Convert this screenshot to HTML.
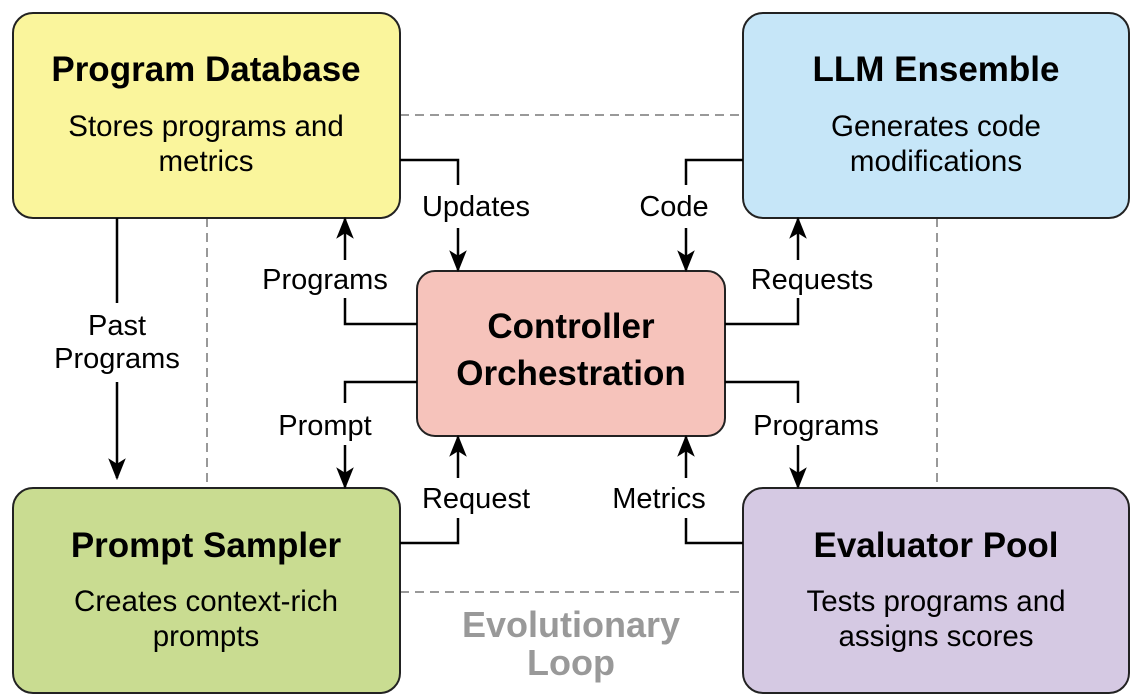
<!DOCTYPE html>
<html><head><meta charset="utf-8"><style>html,body{margin:0;padding:0;background:#fff}svg{display:block}</style></head><body>
<svg width="1139" height="700" viewBox="0 0 1139 700" xmlns="http://www.w3.org/2000/svg" font-family="Liberation Sans, Arial, sans-serif">
<defs><marker id="a" viewBox="0 0 20 20" refX="18" refY="10" markerWidth="22" markerHeight="22" markerUnits="userSpaceOnUse" orient="auto"><path d="M0,2 L20,10 L0,18 L5,10 z" fill="#000"/></marker></defs>
<g stroke="#999" stroke-width="2" stroke-dasharray="9,6" fill="none">
<line x1="400" y1="115" x2="743" y2="115"/><line x1="400" y1="592" x2="743" y2="592"/>
<line x1="207" y1="218" x2="207" y2="488"/><line x1="937" y1="218" x2="937" y2="488"/>
</g>
<g stroke="#222" stroke-width="2">
<rect x="13" y="13" width="387" height="205" rx="20" fill="#faf59c"/>
<rect x="743" y="13" width="386" height="205" rx="20" fill="#c6e6f8"/>
<rect x="417" y="271" width="308" height="165" rx="18" fill="#f6c3bb"/>
<rect x="13" y="488" width="387" height="205" rx="20" fill="#c9dc91"/>
<rect x="743" y="488" width="386" height="205" rx="20" fill="#d5c9e3"/>
</g>
<g stroke="#000" stroke-width="2.5" fill="none">
<polyline points="400,160 458,160 458,185"/><line x1="458" y1="228" x2="458" y2="270" marker-end="url(#a)"/>
<polyline points="417,324 345,324 345,298"/><line x1="345" y1="260" x2="345" y2="219" marker-end="url(#a)"/>
<polyline points="743,160 686,160 686,185"/><line x1="686" y1="228" x2="686" y2="270" marker-end="url(#a)"/>
<polyline points="725,324 798,324 798,298"/><line x1="798" y1="260" x2="798" y2="219" marker-end="url(#a)"/>
<polyline points="417,382 345,382 345,403"/><line x1="345" y1="445" x2="345" y2="487" marker-end="url(#a)"/>
<polyline points="725,382 798,382 798,403"/><line x1="798" y1="445" x2="798" y2="487" marker-end="url(#a)"/>
<polyline points="400,543 458,543 458,518"/><line x1="458" y1="478" x2="458" y2="437" marker-end="url(#a)"/>
<polyline points="743,543 686,543 686,518"/><line x1="686" y1="478" x2="686" y2="437" marker-end="url(#a)"/>
<line x1="117" y1="218" x2="117" y2="303"/><line x1="117" y1="382" x2="117" y2="478" marker-end="url(#a)"/>
</g>
<g text-anchor="middle" fill="#000">
<g font-weight="bold" font-size="35">
<text x="206" y="81">Program Database</text>
<text x="936" y="81">LLM Ensemble</text>
<text x="571" y="338">Controller</text>
<text x="571" y="385">Orchestration</text>
<text x="206" y="557">Prompt Sampler</text>
<text x="936" y="557">Evaluator Pool</text>
</g>
<g font-size="29.5">
<text x="206" y="136">Stores programs and</text><text x="206" y="171">metrics</text>
<text x="936" y="136">Generates code</text><text x="936" y="171">modifications</text>
<text x="206" y="611">Creates context-rich</text><text x="206" y="646">prompts</text>
<text x="936" y="611">Tests programs and</text><text x="936" y="646">assigns scores</text>
</g>
<g font-size="29">
<text x="476" y="216">Updates</text>
<text x="325" y="289">Programs</text>
<text x="674" y="216">Code</text>
<text x="812" y="289">Requests</text>
<text x="325" y="435">Prompt</text>
<text x="816" y="435">Programs</text>
<text x="476" y="508">Request</text>
<text x="659" y="508">Metrics</text>
<text x="117" y="335">Past</text>
<text x="117" y="368">Programs</text>
</g>
<g font-size="36" font-weight="bold" fill="#999">
<text x="571" y="637">Evolutionary</text><text x="571" y="675">Loop</text>
</g>
</g>
</svg>
</body></html>
